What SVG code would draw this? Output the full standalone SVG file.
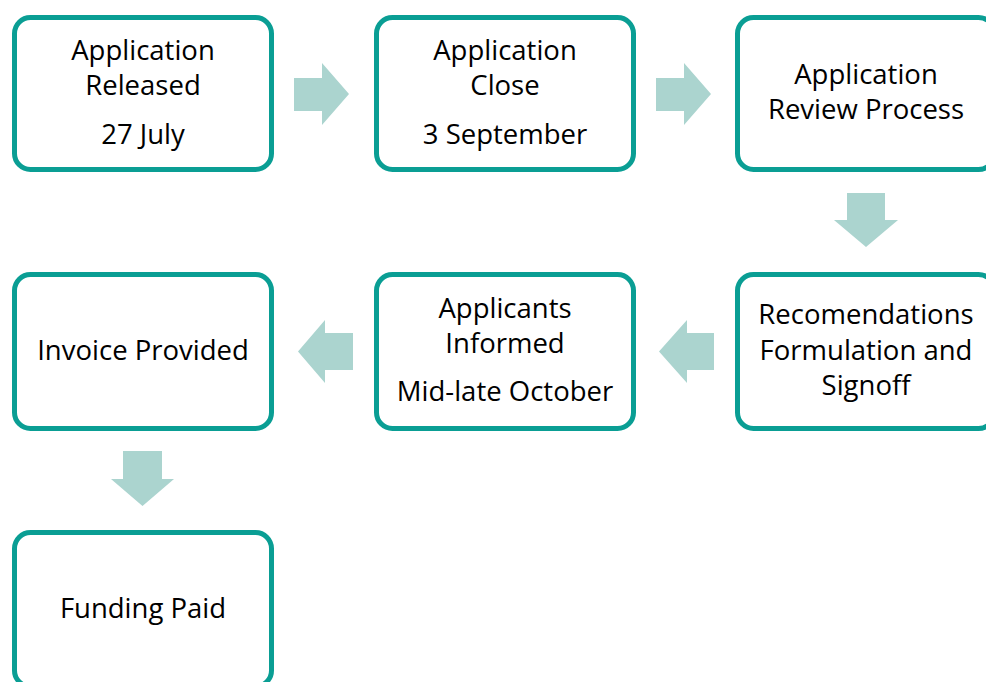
<svg xmlns="http://www.w3.org/2000/svg" width="986" height="682" viewBox="0 0 986 682">
<style>
.box{fill:#fff;stroke:#0A9E94;stroke-width:5}
.arr{fill:#ABD4CF}
text{font-family:"Open Sans","Liberation Sans",sans-serif;font-size:27.5px;fill:#000;text-anchor:middle}
</style>
<rect width="986" height="682" fill="#fff"/>
<g id="connectors">
<polygon class="arr" points="294,78 322,78 322,63 349,94 322,125 322,111 294,111"/>
<polygon class="arr" points="656,78 684,78 684,63 711,94 684,125 684,111 656,111"/>
<polygon class="arr" points="847,193 885,193 885,220 898,220 866,247 834,220 847,220"/>
<polygon class="arr" points="714,333 687,333 687,320 659,351.5 687,383 687,370 714,370"/>
<polygon class="arr" points="353,333 325,333 325,320 298,351.5 325,383 325,370 353,370"/>
<polygon class="arr" points="123,451 162,451 162,479 174,479 142.5,506 111,479 123,479"/>
</g>
<g id="n1"><rect class="box" x="14.5" y="17.5" width="257" height="152" rx="16"/>
<text x="143" y="60">Application</text><text x="143" y="95">Released</text><text x="143" y="144">27 July</text></g>
<g id="n2"><rect class="box" x="376.5" y="17.5" width="257" height="152" rx="16"/>
<text x="505" y="60">Application</text><text x="505" y="95">Close</text><text x="505" y="144">3 September</text></g>
<g id="n3"><rect class="box" x="737.5" y="17.5" width="257" height="152" rx="16"/>
<text x="866" y="84">Application</text><text x="866" y="119">Review Process</text></g>
<g id="n4"><rect class="box" x="737.5" y="274.5" width="257" height="154" rx="16"/>
<text x="866" y="324">Recomendations</text><text x="866" y="360">Formulation and</text><text x="866" y="395">Signoff</text></g>
<g id="n5"><rect class="box" x="376.5" y="274.5" width="257" height="154" rx="16"/>
<text x="505" y="318">Applicants</text><text x="505" y="353">Informed</text><text x="505" y="401">Mid-late October</text></g>
<g id="n6"><rect class="box" x="14.5" y="274.5" width="257" height="154" rx="16"/>
<text x="143" y="360">Invoice Provided</text></g>
<g id="n7"><rect class="box" x="14.5" y="532.5" width="257" height="154" rx="16"/>
<text x="143" y="618">Funding Paid</text></g>
</svg>
